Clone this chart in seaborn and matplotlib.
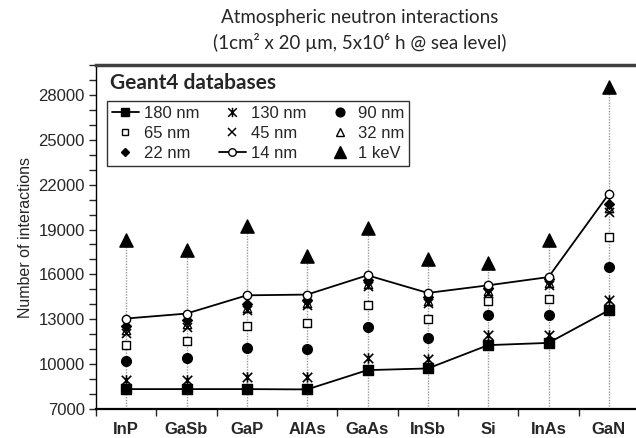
import numpy as np
import pandas as pd
import matplotlib
matplotlib.use('Agg')
import matplotlib.pyplot as plt
import seaborn as sns
from matplotlib.lines import Line2D
from matplotlib.path import Path
from matplotlib.ticker import MultipleLocator, FixedLocator

# Data
materials = ["InP", "GaSb", "GaP", "AlAs", "GaAs", "InSb", "Si", "InAs", "GaN"]
nm180 = [8330, 8330, 8330, 8310, 9600, 9710, 11270, 11420, 13600]
nm130 = [8930, 8930, 9150, 9150, 10380, 10330, 11940, 11980, 14270]
nm90 = [10200, 10380, 11090, 10980, 12490, 11780, 13270, 13270, 16490]
nm65 = [11270, 11530, 12560, 12720, 13980, 13000, 14200, 14380, 18490]
nm45 = [12050, 12500, 13600, 13950, 15200, 14100, 14750, 15300, 20200]
nm32 = [12250, 12700, 13750, 14100, 15350, 14250, 14900, 15450, 20450]
nm22 = [12560, 12940, 14050, 14320, 15600, 14490, 15090, 15670, 20720]
nm14 = [13050, 13380, 14600, 14650, 15940, 14760, 15270, 15820, 21380]
kev1 = [18270, 17650, 19230, 17200, 19090, 17050, 16760, 18320, 28500]

series_labels = ["180 nm", "130 nm", "90 nm", "65 nm", "45 nm", "32 nm", "22 nm", "14 nm", "1 keV"]
series_values = [nm180, nm130, nm90, nm65, nm45, nm32, nm22, nm14, kev1]

# Excel-like "star": an x crossed by a vertical bar
star = Path([(-1, -1), (1, 1), (-1, 1), (1, -1), (0, -1.1), (0, 1.1)],
            [Path.MOVETO, Path.LINETO, Path.MOVETO, Path.LINETO, Path.MOVETO, Path.LINETO])

# marker, size, face, has line
styles = {
    "180 nm": ("s", 6.5, "black", True),
    "130 nm": (star, 7.5, "none", False),
    "90 nm": ("o", 7, "black", False),
    "65 nm": ("s", 5.5, "white", False),
    "45 nm": ("x", 6.5, "black", False),
    "32 nm": ("^", 6, "white", False),
    "22 nm": ("D", 5, "black", False),
    "14 nm": ("o", 6, "white", True),
    "1 keV": ("^", 9.5, "black", False),
}

sns.set_style("ticks")
plt.rcParams['font.family'] = ['Liberation Sans', 'DejaVu Sans']

xpos = np.arange(len(materials))
df = pd.DataFrame({"x": np.tile(xpos, len(series_labels)),
                   "material": materials * len(series_labels),
                   "series": np.repeat(series_labels, len(materials)),
                   "value": np.concatenate(series_values)})

fig = plt.figure(figsize=(6.36, 4.38), dpi=100)
ax = fig.add_axes([96 / 636, 29 / 438, 543 / 636, 344 / 438])

# dotted drop lines from the 1 keV points
ax.vlines(xpos, 7000, kev1, colors="#9a9a9a", linestyles=(0, (1, 1)), linewidth=1, zorder=1)

handles = {}
for lab in series_labels:
    mk, ms, face, line = styles[lab]
    sub = df[df["series"] == lab]
    if line:
        sns.lineplot(data=sub, x="x", y="value", color="black", linewidth=1.3, ax=ax,
                     zorder=2, legend=False)
    unfilled = not isinstance(mk, str) or mk == "x"
    if unfilled:
        sns.scatterplot(data=sub, x="x", y="value", marker=mk, s=ms ** 2, color="black",
                        edgecolor="black", linewidth=1.2, ax=ax, zorder=4, legend=False)
    else:
        sns.scatterplot(data=sub, x="x", y="value", marker=mk, s=ms ** 2, color=face,
                        edgecolor="black", linewidth=1.0, ax=ax, zorder=3, legend=False)
    handles[lab] = Line2D([], [], color="black", linestyle="-" if line else "none",
                          linewidth=1.3, marker=mk, markersize=ms * 0.9,
                          markerfacecolor=face, markeredgecolor="black",
                          markeredgewidth=1.1 if unfilled else 1.0)

ax.set_xlim(-0.5, len(materials) - 0.5)
ax.set_ylim(7000, 30000)
ax.yaxis.set_major_locator(FixedLocator([7000, 10000, 13000, 16000, 19000, 22000, 25000, 28000]))
ax.yaxis.set_minor_locator(MultipleLocator(1000))
ax.set_xticks(xpos)
ax.set_xticklabels(materials, fontweight="bold", fontsize=12)
ax.xaxis.set_minor_locator(FixedLocator(np.arange(-0.5, len(materials), 1.0)))
ax.tick_params(axis="x", which="major", length=0, pad=9)
ax.tick_params(axis="x", which="minor", length=5, width=1, direction="out")
ax.tick_params(axis="y", which="both", length=5, width=1, direction="out", labelsize=12, pad=3)
ax.set_xlabel("")
ax.set_ylabel("Number of interactions", fontsize=11.5, labelpad=4)

for side in ["left", "bottom"]:
    ax.spines[side].set_color("black")
ax.spines["left"].set_linewidth(1)
ax.spines["bottom"].set_linewidth(1.6)
ax.spines["top"].set_visible(True)
ax.spines["top"].set_color("#404040")
ax.spines["top"].set_linewidth(2.5)
ax.spines["right"].set_visible(False)

# legend filled column-wise to read row-wise like the reference
order = ["180 nm", "65 nm", "22 nm", "130 nm", "45 nm", "14 nm", "90 nm", "32 nm", "1 keV"]
leg = ax.legend([handles[k] for k in order], order, ncol=3, loc="upper left",
                bbox_to_anchor=(0.02, 0.895), fontsize=12, frameon=True, fancybox=False,
                edgecolor="black", borderpad=0.3, columnspacing=1.2, handlelength=1.6,
                handletextpad=0.3, labelspacing=0.3, borderaxespad=0)
leg.get_frame().set_linewidth(1.0)
ax.text(0.025, 0.948, "Geant4 databases", transform=ax.transAxes, fontsize=15,
        fontweight="bold", family=["Lato", "DejaVu Sans"], va="center", ha="left")

fig.text(360 / 636, 1 - 18 / 438, "Atmospheric neutron interactions", ha="center", va="center",
         fontsize=13.5, family=["Lato", "DejaVu Sans"])
fig.text(360 / 636, 1 - 42 / 438, "(1cm\u00b2 x 20 \u00b5m, 5x10\u2076 h @ sea level)", ha="center",
         va="center", fontsize=13.5, family=["Lato", "DejaVu Sans"])

fig.savefig("out.png", dpi=100)
